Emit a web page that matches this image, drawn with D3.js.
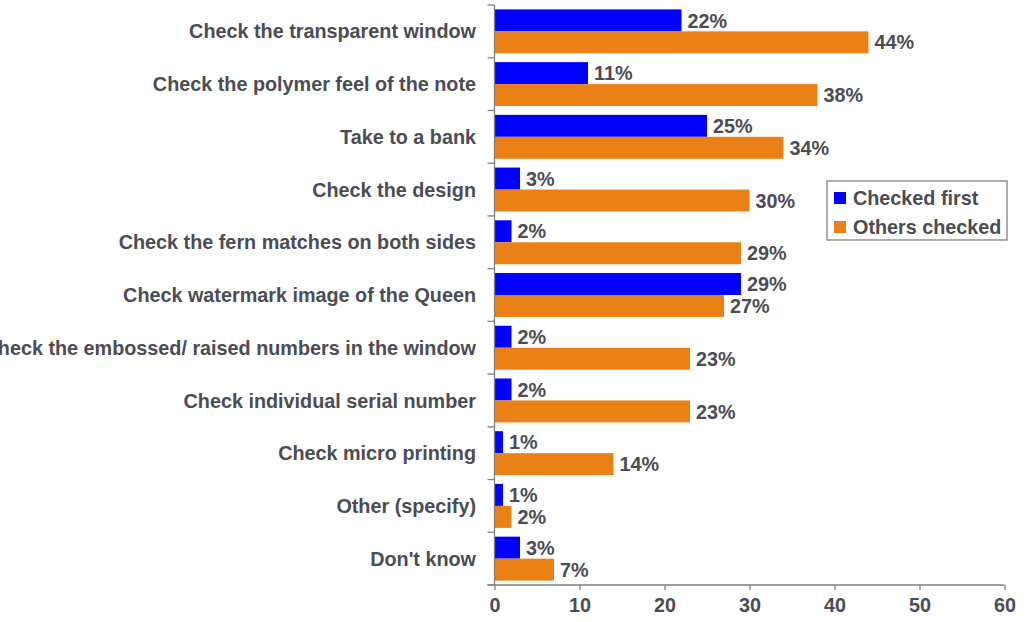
<!DOCTYPE html>
<html>
<head>
<meta charset="utf-8">
<script src="https://cdn.jsdelivr.net/npm/d3@7"></script>
<style>
  html, body { margin: 0; padding: 0; background: #fff; }
  svg { display: block; font-family: "Liberation Sans", Arial, sans-serif; font-weight: bold; }
</style>
</head>
<body>
<svg id="chart" width="1026" height="622"></svg>
<script>
// Ways people check a banknote: which check came first vs. which others were also done
const categories = [
  "Check the transparent window",
  "Check the polymer feel of the note",
  "Take to a bank",
  "Check the design",
  "Check the fern matches on both sides",
  "Check watermark image of the Queen",
  "Check the embossed/ raised numbers in the window",
  "Check individual serial number",
  "Check micro printing",
  "Other (specify)",
  "Don't know"
];
const checkedFirst   = [22, 11, 25, 3, 2, 29, 2, 2, 1, 1, 3];
const othersChecked  = [44, 38, 34, 30, 29, 27, 23, 23, 14, 2, 7];
const seriesNames    = ["Checked first", "Others checked"];
const seriesColors   = ["#0000ff", "#ea8116"];
const xTicks         = [0, 10, 20, 30, 40, 50, 60];

const textColor = "#4c4c54";
const axisColor = "#808080";
const fontSize = 19.8;

const svg = d3.select("#chart");

const x = d3.scaleLinear().domain([0, 60]).range([494.5, 1004.5]);
const y = d3.scaleBand().domain(categories).range([5, 585]).paddingInner(0).paddingOuter(0);
const inner = d3.scaleBand().domain(seriesNames).range([0, y.bandwidth()]).paddingInner(0).paddingOuter(0.2);

const rows = categories.map((c, i) => ({
  cat: c,
  values: [
    { s: seriesNames[0], v: checkedFirst[i] },
    { s: seriesNames[1], v: othersChecked[i] }
  ]
}));

const color = d3.scaleOrdinal().domain(seriesNames).range(seriesColors);

// bars
const groups = svg.append("g").selectAll("g")
  .data(rows).join("g")
  .attr("transform", d => `translate(0,${y(d.cat)})`);

groups.selectAll("rect")
  .data(d => d.values).join("rect")
  .attr("x", x(0))
  .attr("y", d => inner(d.s))
  .attr("width", d => x(d.v) - x(0))
  .attr("height", inner.bandwidth())
  .attr("fill", d => color(d.s));

// value labels
groups.selectAll("text")
  .data(d => d.values).join("text")
  .attr("x", d => x(d.v) + 6)
  .attr("y", d => inner(d.s) + inner.bandwidth() / 2)
  .attr("dy", "0.36em")
  .attr("font-size", fontSize)
  .attr("fill", textColor)
  .text(d => d.v + "%");

// category axis (left)
const yAxisG = svg.append("g");
yAxisG.append("line")
  .attr("x1", x(0)).attr("x2", x(0))
  .attr("y1", y.range()[0]).attr("y2", y.range()[1])
  .attr("stroke", axisColor).attr("stroke-width", 1.3);
const boundaries = categories.map(c => y(c)).concat([y.range()[1]]);
yAxisG.selectAll("line.tick")
  .data(boundaries).join("line")
  .attr("class", "tick")
  .attr("x1", x(0) - 7).attr("x2", x(0))
  .attr("y1", d => d).attr("y2", d => d)
  .attr("stroke", axisColor).attr("stroke-width", 1.3);
yAxisG.selectAll("text")
  .data(categories).join("text")
  .attr("x", 476)
  .attr("y", d => y(d) + y.bandwidth() / 2)
  .attr("dy", "0.36em")
  .attr("text-anchor", "end")
  .attr("font-size", fontSize)
  .attr("fill", textColor)
  .text(d => d);

// value axis (bottom)
const xAxis = d3.axisBottom(x).tickValues(xTicks).tickSize(5).tickPadding(8).tickSizeOuter(0);
const xAxisG = svg.append("g")
  .attr("transform", `translate(0,${y.range()[1]})`)
  .call(xAxis);
xAxisG.select(".domain").remove();
xAxisG.insert("line", ":first-child")
  .attr("x1", x(0) - 7).attr("x2", x(60))
  .attr("y1", 0).attr("y2", 0)
  .attr("stroke", axisColor).attr("stroke-width", 1.3);
xAxisG.selectAll(".tick line").attr("stroke", axisColor).attr("stroke-width", 1.3);
xAxisG.selectAll(".tick text")
  .attr("font-size", fontSize)
  .attr("font-family", "Liberation Sans, Arial, sans-serif")
  .attr("font-weight", "bold")
  .attr("fill", textColor);

// legend
const legend = svg.append("g").attr("transform", "translate(827,181)");
legend.append("rect")
  .attr("x", 0).attr("y", 0).attr("width", 180).attr("height", 59)
  .attr("fill", "#fff").attr("stroke", axisColor).attr("stroke-width", 1.3);
const items = legend.selectAll("g.item")
  .data(seriesNames).join("g")
  .attr("class", "item")
  .attr("transform", (d, i) => `translate(7,${11 + i * 29})`);
items.append("rect")
  .attr("width", 12).attr("height", 12)
  .attr("y", 0)
  .attr("fill", d => color(d));
items.append("text")
  .attr("x", 19).attr("y", 6)
  .attr("dy", "0.36em")
  .attr("font-size", fontSize)
  .attr("fill", textColor)
  .text(d => d);
</script>
</body>
</html>
